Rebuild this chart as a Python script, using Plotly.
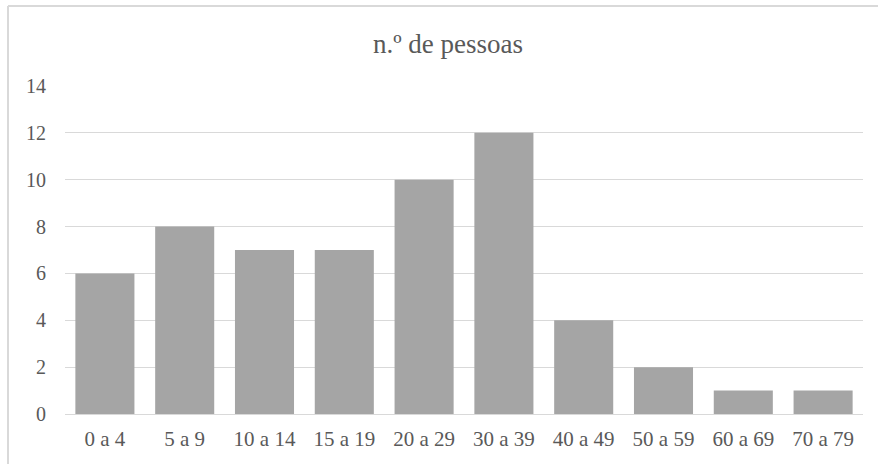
import plotly.graph_objects as go

categories = ["0 a 4", "5 a 9", "10 a 14", "15 a 19", "20 a 29", "30 a 39",
              "40 a 49", "50 a 59", "60 a 69", "70 a 79"]
values = [6, 8, 7, 7, 10, 12, 4, 2, 1, 1]
y_ticks = [0, 2, 4, 6, 8, 10, 12, 14]
title_text = "n.º de pessoas"

font_family = "Liberation Serif"
text_color = "#595959"

fig = go.Figure(go.Bar(x=categories, y=values, marker_color="#a5a5a5",
                       marker_line_width=0))

fig.update_layout(
    width=878, height=464,
    margin=dict(l=65, r=15, t=86, b=50),
    paper_bgcolor="white", plot_bgcolor="white",
    bargap=0.26,
    showlegend=False,
    font=dict(family=font_family, size=20, color=text_color),
    title=dict(text=title_text, x=448/878, xref="container", xanchor="center",
               y=1 - 44/464, yref="container", yanchor="middle",
               font=dict(family=font_family, size=27, color=text_color)),
    xaxis=dict(showgrid=False, showline=True, linecolor="#d9d9d9", linewidth=1,
               ticks="", tickfont=dict(family=font_family, size=21, color=text_color),
               ticklabelstandoff=6),
    yaxis=dict(range=[0, 14], tickvals=y_ticks, showgrid=True, gridcolor="#d9d9d9",
               gridwidth=1, zeroline=False, showline=False, ticks="",
               tickfont=dict(family=font_family, size=20, color=text_color),
               ticklabelstandoff=18),
    shapes=[
        dict(type="line", xref="paper", yref="paper", x0=-0.0714, x1=-0.0714,
             y0=1.244, y1=-0.2, line=dict(color="#d9d9d9", width=2)),
        dict(type="line", xref="paper", yref="paper", x0=-0.0714, x1=1.03,
             y0=1.244, y1=1.244, line=dict(color="#d9d9d9", width=2)),
    ],
)

fig.write_html("out.html", config={"displayModeBar": False},
               post_script="document.body.style.margin='0';")
